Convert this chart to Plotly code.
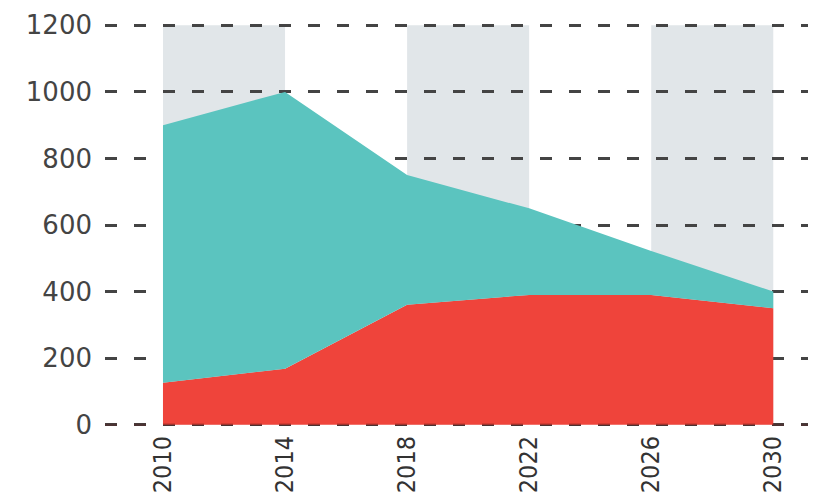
import plotly.graph_objects as go

years = [2010, 2014, 2018, 2022, 2026, 2030]
red_values = [126, 168, 360, 390, 390, 350]
total_values = [900, 1000, 750, 650, 522, 400]
band_ranges = [(2010, 2014), (2018, 2022), (2026, 2030)]
y_ticks = [0, 200, 400, 600, 800, 1000, 1200]
x_ticks = [2010, 2014, 2018, 2022, 2026, 2030]

fig = go.Figure()
fig.add_trace(go.Scatter(x=years, y=red_values, mode="lines", line=dict(width=0, color="#ef443b"),
                         fill="tozeroy", fillcolor="#ef443b", hoverinfo="skip", showlegend=False))
fig.add_trace(go.Scatter(x=years, y=total_values, mode="lines", line=dict(width=0, color="#5bc4bf"),
                         fill="tonexty", fillcolor="#5bc4bf", hoverinfo="skip", showlegend=False))

for x0, x1 in band_ranges:
    fig.add_shape(type="rect", xref="x", yref="y", x0=x0, x1=x1, y0=0, y1=1200,
                  fillcolor="#e1e6e9", line=dict(width=0), layer="below")

# faint dashed baseline drawn over the red area
fig.add_shape(type="line", xref="x", yref="y", x0=2008.1, x1=2031.4, y0=0, y1=0,
              line=dict(color="rgba(90,20,20,0.35)", width=2.5, dash="12px,17px"), layer="above")

fig.update_layout(
    width=816, height=492,
    margin=dict(l=97, r=8, t=14, b=72, autoexpand=False),
    paper_bgcolor="white", plot_bgcolor="white",
    xaxis=dict(range=[2008.1, 2031.4], tickvals=x_ticks, ticktext=[str(v) for v in x_ticks],
               tickangle=-90, showgrid=False, zeroline=False, showline=False, ticks="",
               automargin=False,
               tickfont=dict(family="Liberation Sans Narrow, DejaVu Sans Condensed", size=25, color="#333333"),
               ticklabelstandoff=2),
    yaxis=dict(range=[-10, 1210], tickvals=y_ticks, showgrid=True, gridcolor="#444444",
               griddash="12px,17px", gridwidth=2.5, zeroline=False, showline=False, ticks="",
               automargin=False,
               tickfont=dict(family="DejaVu Sans", size=26, color="#444444"),
               ticklabelstandoff=12),
)

fig.write_html("out.html")
